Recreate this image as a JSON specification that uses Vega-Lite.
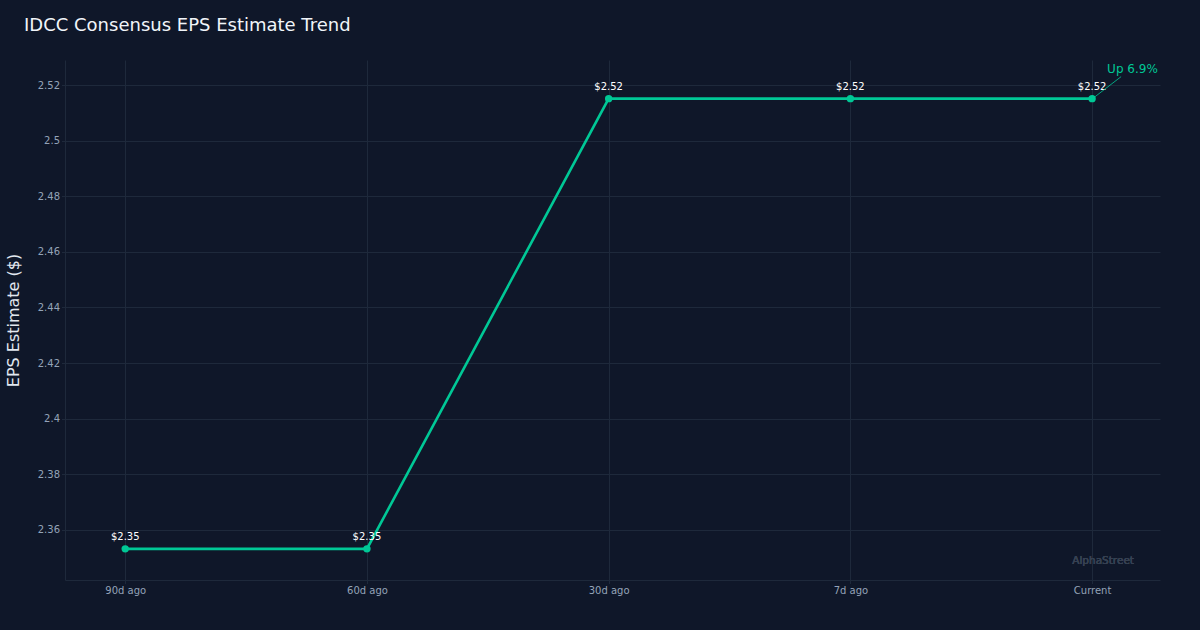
{
  "$schema": "https://vega.github.io/schema/vega-lite/v6.json",
  "width": 1095,
  "height": 520,
  "autosize": {"type": "none"},
  "padding": {"left": 65, "top": 60, "right": 40, "bottom": 50},
  "background": "#0f1729",
  "config": {
    "font": "DejaVu Sans",
    "view": {"stroke": null},
    "axis": {
      "domainColor": "#1e293b",
      "gridColor": "#1e293b",
      "tickColor": "#1e293b",
      "labelColor": "#94a3b8",
      "labelFont": "DejaVu Sans",
      "labelFontSize": 10,
      "tickSize": 3.5,
      "labelPadding": 2,
      "gridWidth": 1,
      "domainWidth": 1
    }
  },
  "title": {
    "text": "IDCC Consensus EPS Estimate Trend",
    "anchor": "start",
    "frame": "group",
    "dx": -41,
    "offset": 11,
    "baseline": "alphabetic",
    "fontSize": 18,
    "font": "DejaVu Sans",
    "fontWeight": "normal",
    "color": "#f1f5f9"
  },
  "data": {
    "values": [
      {"period": "90d ago", "eps": 2.3532},
      {"period": "60d ago", "eps": 2.3532},
      {"period": "30d ago", "eps": 2.5151},
      {"period": "7d ago", "eps": 2.5151},
      {"period": "Current", "eps": 2.5151}
    ]
  },
  "encoding": {
    "x": {
      "field": "period",
      "type": "ordinal",
      "sort": null,
      "scale": {"type": "point", "padding": 0.265, "align": 0.47},
      "axis": {"title": null, "labelAngle": 0, "grid": true}
    },
    "y": {
      "field": "eps",
      "type": "quantitative",
      "scale": {"domain": [2.342, 2.529], "nice": false, "zero": false},
      "axis": {
        "title": "EPS Estimate ($)",
        "titleColor": "#e2e8f0",
        "titleFontSize": 16,
        "titleFont": "DejaVu Sans",
        "titleFontWeight": "normal",
        "titlePadding": 16,
        "values": [2.36, 2.38, 2.4, 2.42, 2.44, 2.46, 2.48, 2.5, 2.52],
        "format": "~g",
        "grid": true
      }
    }
  },
  "layer": [
    {
      "mark": {"type": "line", "color": "#00c896", "strokeWidth": 2.6}
    },
    {
      "mark": {"type": "point", "filled": true, "color": "#00c896", "size": 55, "opacity": 1}
    },
    {
      "mark": {"type": "text", "color": "#ffffff", "fontSize": 10, "dy": -12, "font": "DejaVu Sans"},
      "encoding": {"text": {"field": "eps", "type": "quantitative", "format": "$.2f"}}
    },
    {
      "transform": [{"filter": "datum.period === 'Current'"}],
      "mark": {"type": "rule", "color": "#00c896", "strokeWidth": 0.8, "xOffset": 3, "yOffset": -2, "x2Offset": 29, "y2Offset": -22},
      "encoding": {"x2": {"field": "period"}, "y2": {"field": "eps"}}
    },
    {
      "transform": [{"filter": "datum.period === 'Current'"}],
      "mark": {"type": "text", "color": "#00c896", "fontSize": 12, "align": "left", "dx": 15, "dy": -30, "font": "DejaVu Sans"},
      "encoding": {"text": {"value": "Up 6.9%"}}
    },
    {
      "mark": {"type": "text", "color": "#364152", "fontSize": 10.5, "dx": 11, "font": "DejaVu Sans"},
      "encoding": {
        "x": {"datum": "Current", "type": "ordinal"},
        "y": {"datum": 2.3489, "type": "quantitative"},
        "text": {"value": "AlphaStreet"}
      }
    }
  ]
}
